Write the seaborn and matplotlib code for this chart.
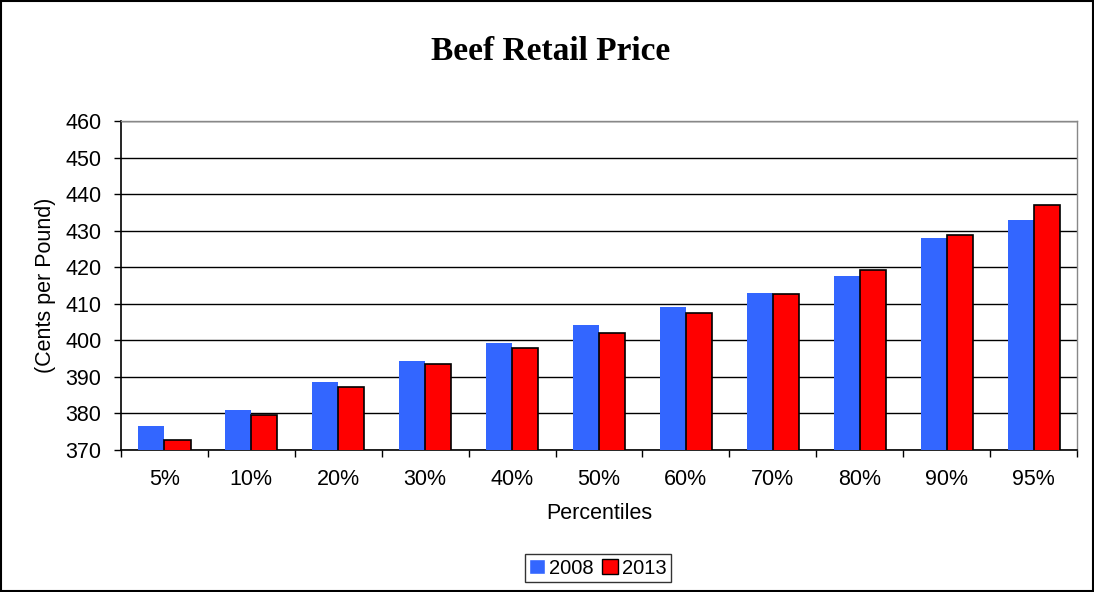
import pandas as pd
import seaborn as sns
import matplotlib.pyplot as plt
import numpy as np
from matplotlib.patches import Rectangle

# Data
percentiles = ['5%', '10%', '20%', '30%', '40%', '50%', '60%', '70%', '80%', '90%', '95%']
price_2008 = [376.5, 381.0, 388.7, 394.4, 399.2, 404.2, 409.1, 412.9, 417.7, 428.0, 432.9]
price_2013 = [372.8, 379.7, 387.2, 393.4, 397.9, 402.1, 407.4, 412.6, 419.2, 428.8, 436.9]
years = ['2008', '2013']
colors = ['#3366FF', '#FF0000']

df = pd.DataFrame({
    'Percentile': percentiles * 2,
    'Year': [years[0]] * len(percentiles) + [years[1]] * len(percentiles),
    'Price': price_2008 + price_2013,
})

sns.set_style('white')
plt.rcParams['font.family'] = ['Liberation Sans', 'DejaVu Sans']
plt.rcParams['text.color'] = 'black'
plt.rcParams['axes.labelcolor'] = 'black'
plt.rcParams['xtick.color'] = 'black'
plt.rcParams['ytick.color'] = 'black'

fig = plt.figure(figsize=(10.94, 5.92), dpi=100)
ax = fig.add_axes([0.1106, 0.2399, 0.8739, 0.5557])

sns.barplot(data=df, x='Percentile', y='Price', hue='Year', palette=colors,
            order=percentiles, hue_order=years, width=0.6, gap=0,
            saturation=1, ax=ax, zorder=3)

# red bars get a black edge, blue ones none
for bar in ax.containers[1]:
    bar.set_edgecolor('black')
    bar.set_linewidth(1.2)
for bar in ax.containers[0]:
    bar.set_edgecolor('none')

ax.set_ylim(370, 460)
ax.set_yticks(np.arange(370, 461, 10))
ax.set_xlim(-0.5, len(percentiles) - 0.5)
ax.yaxis.grid(True, color='black', linewidth=1, zorder=0)
ax.set_axisbelow(True)

# tick marks sit between categories
ax.set_xticks(np.arange(-0.5, len(percentiles), 1), minor=True)
ax.tick_params(axis='x', which='major', length=0, pad=14, labelsize=15.5)
ax.tick_params(axis='x', which='minor', length=5, width=1, color='black', direction='out', bottom=True)
ax.tick_params(axis='y', length=5, width=1, color='black', direction='out', left=True, labelsize=15.5, pad=9)

for side in ['left', 'bottom']:
    ax.spines[side].set_color('black')
    ax.spines[side].set_linewidth(1.2)
for side in ['top', 'right']:
    ax.spines[side].set_color('#888888')
    ax.spines[side].set_linewidth(1)

ax.set_xlabel('Percentiles', fontsize=15.5, labelpad=9)
ax.set_ylabel('(Cents per Pound)', fontsize=15.5, labelpad=7)

fig.text(0.5037, 0.913, 'Beef Retail Price', ha='center', va='center',
         fontsize=24, fontweight='bold', family='Liberation Serif')

leg = ax.legend(loc='center', bbox_to_anchor=(0.5466, 0.0405), bbox_transform=fig.transFigure,
                ncol=2, fontsize=14.5, frameon=True, fancybox=False,
                handlelength=0.8, handleheight=0.8, handletextpad=0.2,
                columnspacing=0.4, borderpad=0.2, borderaxespad=0)
leg.get_frame().set_edgecolor('black')
leg.get_frame().set_linewidth(1)
leg.legend_handles[1].set_edgecolor('black')

# outer chart border
fig.patches.append(Rectangle((0.001, 0.001), 0.998, 0.998, transform=fig.transFigure,
                             fill=False, edgecolor='black', linewidth=1.5))

fig.savefig('out.png', dpi=100)
